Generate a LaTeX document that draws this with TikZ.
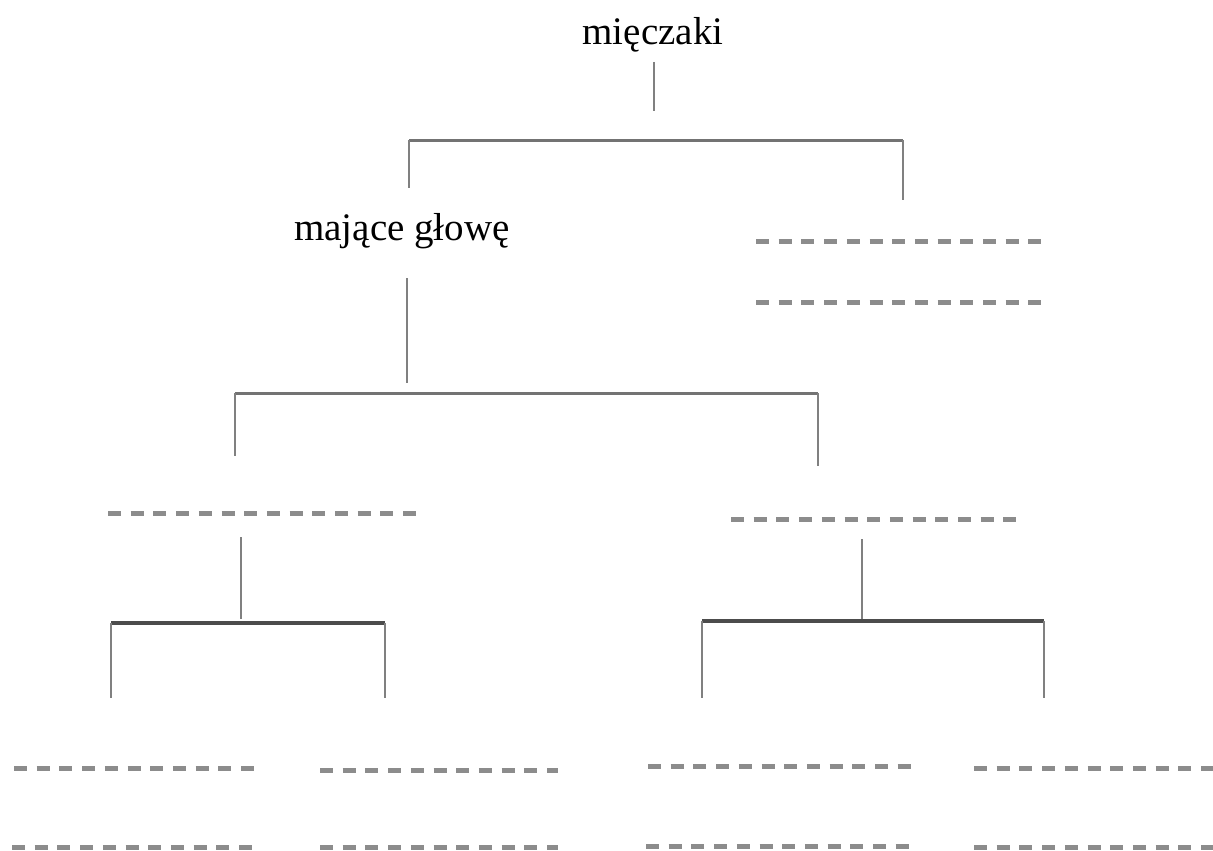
\documentclass[tikz,border=0pt]{standalone}
\usepackage{fontspec}
\setmainfont{Liberation Serif}
\begin{document}
\begin{tikzpicture}[x=1pt,y=-1pt,
  lbl/.style={inner sep=0pt,anchor=base,font=\fontsize{39}{46}\selectfont},
  conn/.style={draw=black!50,line width=2.2pt},
  bar/.style={draw=black!55,line width=3pt},
  barthick/.style={draw=black!70,line width=3.4pt},
  blank/.style={draw=black!45,line width=5pt,dash pattern=on 13pt off 9.7pt}]
\useasboundingbox (0,0) rectangle (1213,851);
% text nodes
\node[lbl] (root) at (653,45) {mięczaki};
\node[lbl] (head) at (402,240) {mające głowę};
% connector coordinates
\coordinate (r1) at (654,62);  \coordinate (r2) at (654,111);
\coordinate (t1) at (409,140); \coordinate (t2) at (903,140);
\coordinate (tl) at (409,188); \coordinate (tr) at (903,200);
\coordinate (h1) at (407,278); \coordinate (h2) at (407,383);
\coordinate (m1) at (235,393); \coordinate (m2) at (818,393);
\coordinate (ml) at (235,456); \coordinate (mr) at (818,466);
\coordinate (a1) at (241,537); \coordinate (a2) at (241,619);
\coordinate (a3) at (111,623); \coordinate (a4) at (385,623);
\coordinate (al) at (111,698); \coordinate (ar) at (385,698);
\coordinate (b1) at (862,539); \coordinate (b2) at (862,620);
\coordinate (b3) at (702,621); \coordinate (b4) at (1044,621);
\coordinate (bl) at (702,698); \coordinate (br) at (1044,698);
% connectors
\draw[conn] (r1) -- (r2);
\draw[bar] (t1) -- (t2);
\draw[conn] (t1) -- (tl);
\draw[conn] (t2) -- (tr);
\draw[conn] (h1) -- (h2);
\draw[bar] (m1) -- (m2);
\draw[conn] (m1) -- (ml);
\draw[conn] (m2) -- (mr);
\draw[conn] (a1) -- (a2);
\draw[barthick] (a3) -- (a4);
\draw[conn] (a3) -- (al);
\draw[conn] (a4) -- (ar);
\draw[conn] (b1) -- (b2);
\draw[barthick] (b3) -- (b4);
\draw[conn] (b3) -- (bl);
\draw[conn] (b4) -- (br);
% blanks to fill in
\draw[blank] (756,241) -- (1044,241);
\draw[blank] (756,302) -- (1042,302);
\draw[blank] (108,513) -- (416,513);
\draw[blank] (731,519) -- (1019,519);
\draw[blank] (14,768) -- (262,768);
\draw[blank] (12,847) -- (260,847);
\draw[blank] (320,770) -- (558,770);
\draw[blank] (320,847) -- (558,847);
\draw[blank] (648,766) -- (914,766);
\draw[blank] (646,846) -- (912,846);
\draw[blank] (974,768) -- (1213,768);
\draw[blank] (974,847) -- (1213,847);
\end{tikzpicture}
\end{document}
